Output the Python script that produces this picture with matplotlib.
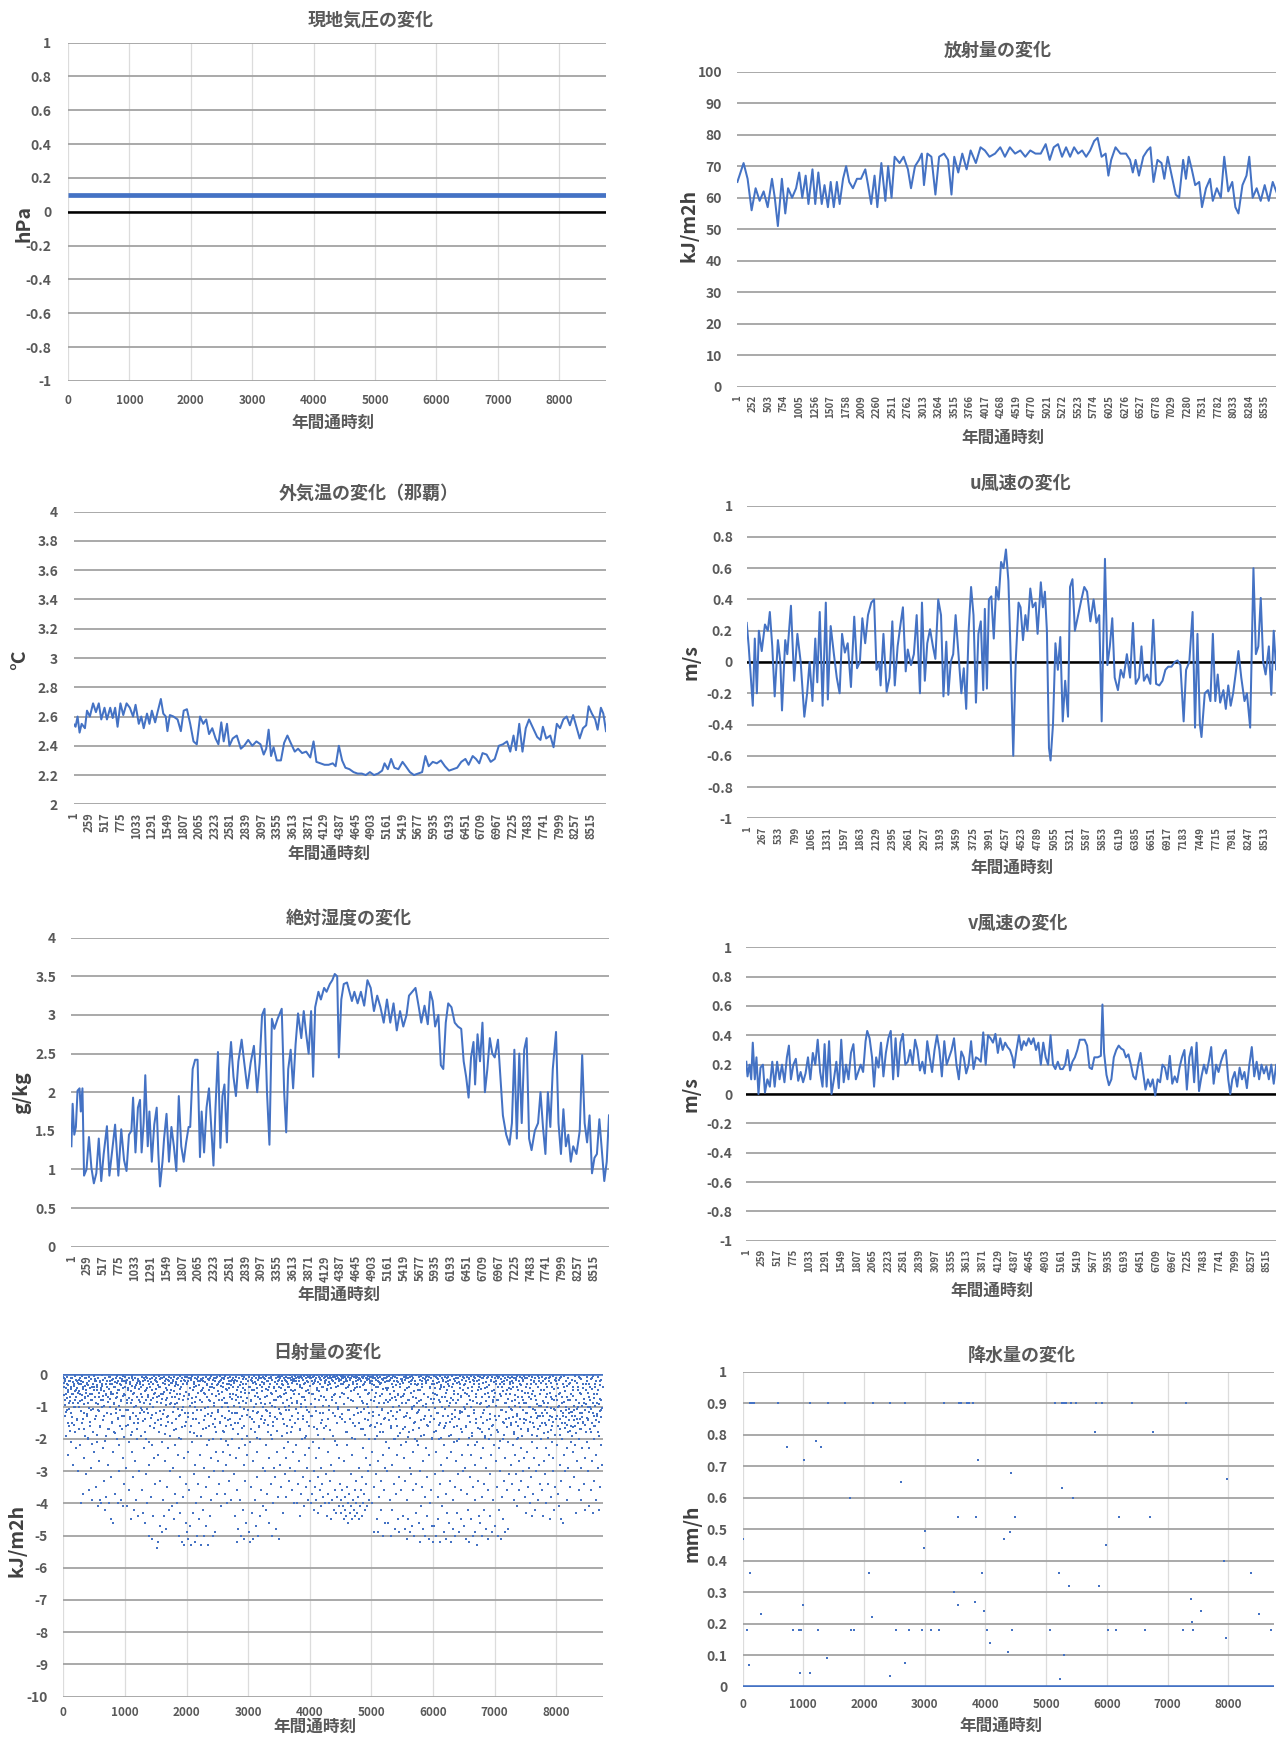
import numpy as np
import matplotlib.pyplot as plt

plt.rcParams['font.family'] = ['Noto Sans CJK JP', 'DejaVu Sans']

W, H = 1276, 1738
BLUE = '#4472C4'
GRID = '#a3a3a3'
VGRID = '#dcdcdc'
TXT = '#595959'
LBL = '#404040'

# ---- data (hour of year, value) ----
pres_series = [(0, 0.1), (8760, 0.1)]

rad_series = [(0,65),(100,71),(165,66),(230,56),(295,63),(360,59),(425,62),(490,57),(560,66),(605,60),
    (655,51),(720,66),(775,55),(820,63),(885,60),(950,63),(1000,68),(1050,60),(1105,67),(1150,58),
    (1215,69),(1260,58),(1310,68),(1365,58),(1410,64),(1465,57),(1510,65),(1560,57),(1610,65),(1655,58),
    (1710,66),(1760,70),(1810,65),(1870,63),(1935,66),(2000,66),(2070,69),(2115,64),(2165,58),(2220,67),
    (2265,57),(2330,71),(2395,59),(2440,70),(2495,60),(2545,73),(2625,71),(2690,73),(2760,69),(2810,63),
    (2875,70),(2940,72),(2985,74),(3020,64),(3075,74),(3140,73),(3205,61),(3265,73),(3345,74),(3410,72),
    (3465,61),(3510,73),(3575,68),(3640,74),(3710,69),(3775,75),(3860,71),(3935,76),(4005,75),(4080,73),
    (4170,74),(4255,76),(4330,73),(4410,76),(4495,74),(4580,75),(4660,73),(4740,75),(4825,74),(4910,74),
    (4990,77),(5055,72),(5120,76),(5190,77),(5255,73),(5320,76),(5385,73),(5450,76),(5515,74),(5580,75),
    (5645,73),(5710,75),(5775,78),(5830,79),(5895,73),(5960,74),(6005,67),(6050,72),(6120,76),(6200,74),
    (6290,74),(6355,72),(6400,68),(6445,72),(6500,67),(6570,73),(6635,75),(6685,76),(6735,65),(6800,72),
    (6865,71),(6910,66),(6965,73),(7030,67),(7095,61),(7150,60),(7215,72),(7260,66),(7305,73),(7355,69),
    (7410,64),(7475,65),(7520,57),(7585,63),(7650,66),(7695,59),(7760,63),(7825,60),(7880,73),(7945,62),
    (8010,65),(8060,57),(8110,55),(8175,64),(8240,67),(8285,73),(8340,60),(8405,63),(8470,59),(8535,64),
    (8600,59),(8665,65),(8760,60)]

temp_series = [(0,2.55),(34,2.53),(67,2.60),(100,2.49),(134,2.55),(188,2.52),(222,2.64),(269,2.60),
    (322,2.69),(369,2.63),(416,2.69),(457,2.58),(510,2.66),(550,2.58),(604,2.66),(645,2.59),(685,2.66),
    (725,2.53),(772,2.69),(819,2.61),(873,2.69),(927,2.66),(980,2.60),(1021,2.68),(1074,2.55),(1115,2.60),
    (1155,2.52),(1209,2.62),(1249,2.55),(1289,2.64),(1343,2.56),(1383,2.63),(1437,2.72),(1477,2.62),
    (1518,2.60),(1545,2.50),(1585,2.61),(1645,2.60),(1712,2.58),(1766,2.50),(1813,2.64),(1866,2.65),
    (1920,2.55),(1974,2.43),(2028,2.41),(2082,2.60),(2135,2.55),(2183,2.58),(2230,2.48),(2283,2.52),
    (2337,2.45),(2384,2.41),(2431,2.56),(2471,2.43),(2525,2.55),(2565,2.40),(2619,2.45),(2686,2.47),
    (2753,2.38),(2807,2.40),(2874,2.44),(2941,2.40),(3009,2.43),(3076,2.41),(3129,2.34),(3170,2.38),
    (3210,2.51),(3250,2.33),(3291,2.39),(3344,2.30),(3412,2.30),(3465,2.42),(3519,2.47),(3573,2.42),
    (3640,2.36),(3694,2.38),(3761,2.35),(3828,2.36),(3895,2.32),(3949,2.43),(3996,2.29),(4063,2.28),
    (4130,2.27),(4197,2.27),(4265,2.28),(4312,2.26),(4365,2.40),(4419,2.30),(4473,2.25),(4540,2.24),
    (4607,2.22),(4674,2.21),(4742,2.21),(4809,2.20),(4876,2.22),(4943,2.20),(5010,2.21),(5077,2.23),
    (5117,2.28),(5171,2.24),(5225,2.31),(5278,2.25),(5345,2.24),(5413,2.29),(5466,2.26),(5534,2.22),
    (5601,2.20),(5668,2.21),(5735,2.22),(5789,2.33),(5843,2.26),(5910,2.29),(5977,2.28),(6044,2.30),
    (6111,2.26),(6178,2.23),(6245,2.24),(6312,2.25),(6379,2.29),(6447,2.31),(6500,2.27),(6567,2.33),
    (6621,2.31),(6675,2.28),(6729,2.35),(6796,2.34),(6863,2.29),(6930,2.31),(6997,2.40),(7064,2.41),
    (7132,2.43),(7185,2.36),(7239,2.47),(7279,2.37),(7333,2.55),(7386,2.36),(7440,2.52),(7494,2.58),
    (7561,2.52),(7628,2.46),(7682,2.44),(7722,2.53),(7776,2.45),(7843,2.47),(7897,2.39),(7951,2.55),
    (8004,2.52),(8058,2.58),(8112,2.60),(8166,2.54),(8219,2.61),(8273,2.53),(8327,2.45),(8381,2.52),
    (8434,2.54),(8474,2.67),(8528,2.62),(8582,2.58),(8622,2.51),(8676,2.66),(8716,2.62),(8760,2.50)]

u_series = [(0,0.25),(33,0.10),(60,-0.05),(100,-0.28),(133,0.15),(167,-0.20),(200,0.20),(247,0.07),
    (300,0.24),(347,0.20),(380,0.32),(420,0.10),(460,-0.22),(513,0.14),(553,0.00),(580,-0.31),(633,0.14),
    (667,0.05),(727,0.36),(780,-0.12),(833,0.18),(887,0.00),(947,-0.35),(993,-0.20),(1033,0.00),
    (1080,-0.25),(1127,0.15),(1160,-0.13),(1200,0.32),(1247,-0.28),(1300,0.38),(1333,-0.24),(1380,0.23),
    (1433,0.05),(1480,-0.10),(1527,-0.20),(1567,0.18),(1613,0.06),(1660,0.12),(1713,-0.16),(1767,0.29),
    (1813,-0.04),(1860,0.00),(1900,0.28),(1947,0.12),(1993,0.30),(2047,0.38),(2093,0.40),(2133,-0.05),
    (2180,0.00),(2200,-0.15),(2247,0.18),(2300,-0.19),(2347,-0.10),(2393,0.26),(2433,-0.15),(2480,0.10),
    (2527,0.24),(2567,0.35),(2613,-0.06),(2647,0.08),(2700,-0.02),(2747,0.05),(2793,0.30),(2847,-0.20),
    (2880,0.38),(2927,-0.12),(2967,0.12),(3013,0.21),(3060,0.10),(3100,0.02),(3147,0.40),(3193,0.30),
    (3233,-0.22),(3280,0.13),(3313,-0.21),(3353,0.00),(3393,0.05),(3433,0.30),(3480,0.05),(3527,-0.20),
    (3567,-0.04),(3607,-0.30),(3647,0.20),(3687,0.48),(3727,0.30),(3767,-0.26),(3807,0.18),(3847,0.26),
    (3887,-0.18),(3913,0.34),(3947,-0.17),(3980,0.40),(4020,0.42),(4060,0.15),(4100,0.48),(4140,0.40),
    (4180,0.64),(4220,0.60),(4260,0.72),(4300,0.52),(4333,0.10),(4380,-0.60),(4420,0.00),(4467,0.38),
    (4500,0.35),(4540,0.14),(4580,0.30),(4613,0.20),(4660,0.47),(4700,0.35),(4747,0.38),(4780,0.18),
    (4833,0.51),(4867,0.35),(4900,0.45),(4933,0.20),(4967,-0.55),(4993,-0.63),(5033,-0.40),(5073,0.12),
    (5113,-0.05),(5153,0.16),(5193,-0.38),(5233,-0.12),(5280,-0.35),(5313,0.48),(5353,0.53),(5393,0.20),
    (5447,0.30),(5500,0.40),(5547,0.48),(5593,0.45),(5647,0.26),(5700,0.40),(5747,0.25),(5793,0.30),
    (5833,-0.38),(5887,0.66),(5927,-0.02),(5967,0.10),(6007,0.28),(6047,-0.10),(6100,-0.18),(6147,-0.05),
    (6193,-0.10),(6247,0.05),(6300,-0.10),(6347,0.25),(6393,-0.14),(6447,-0.10),(6487,0.10),(6527,-0.12),
    (6580,-0.08),(6633,-0.14),(6680,0.27),(6727,-0.14),(6780,-0.15),(6833,-0.12),(6880,-0.05),(6927,-0.03),
    (6980,-0.03),(7033,0.00),(7080,0.01),(7127,-0.02),(7180,-0.38),(7220,-0.05),(7273,0.00),(7327,0.32),
    (7367,-0.42),(7407,0.18),(7447,-0.40),(7473,-0.48),(7527,-0.20),(7580,-0.18),(7620,-0.25),(7660,0.18),
    (7700,-0.25),(7740,-0.08),(7780,-0.26),(7833,-0.18),(7873,-0.30),(7913,-0.15),(7953,-0.28),(7993,-0.20),
    (8033,-0.08),(8080,0.07),(8127,-0.10),(8180,-0.25),(8220,-0.20),(8273,-0.42),(8327,0.60),(8367,0.05),
    (8407,0.10),(8447,0.41),(8487,0.00),(8527,-0.08),(8580,0.10),(8620,-0.21),(8660,0.20),(8700,-0.05),
    (8760,0.15)]

hum_series = [(0,1.30),(20,1.85),(47,1.45),(73,1.55),(100,2.02),(133,2.05),(153,1.75),(180,2.05),(206,0.92),
    (246,1.00),(286,1.42),(326,1.02),(366,0.82),(406,0.95),(446,1.40),(486,0.85),(526,1.20),(579,1.56),
    (619,0.92),(665,1.25),(712,1.58),(765,0.92),(812,1.52),(858,1.12),(898,0.98),(938,1.45),(978,1.50),
    (1005,1.93),(1044,1.22),(1084,1.80),(1118,1.90),(1144,1.22),(1177,1.60),(1204,2.22),(1244,1.30),
    (1271,1.75),(1310,1.10),(1350,1.58),(1390,1.80),(1417,1.20),(1444,0.78),(1484,1.10),(1510,1.40),
    (1550,1.72),(1590,1.10),(1630,1.55),(1670,1.30),(1710,0.98),(1750,1.95),(1790,1.30),(1830,1.10),
    (1870,1.35),(1910,1.55),(1936,1.55),(1976,2.30),(2016,2.42),(2056,2.42),(2095,1.16),(2122,1.75),
    (2162,1.22),(2202,1.80),(2242,2.05),(2282,1.50),(2315,1.05),(2348,1.80),(2388,2.52),(2428,1.28),
    (2461,1.95),(2494,2.10),(2534,1.35),(2568,2.30),(2601,2.65),(2641,2.20),(2681,1.95),(2721,2.40),
    (2774,2.68),(2814,2.40),(2867,2.05),(2921,2.38),(2974,2.60),(3027,2.00),(3067,2.38),(3107,3.00),
    (3147,3.08),(3187,2.00),(3227,1.32),(3267,2.95),(3307,2.82),(3360,2.95),(3427,3.08),(3467,2.00),
    (3500,1.48),(3533,2.30),(3573,2.55),(3613,2.05),(3653,2.62),(3693,3.02),(3746,2.70),(3786,3.05),
    (3826,2.75),(3866,2.50),(3906,3.05),(3939,2.20),(3972,3.10),(4025,3.30),(4065,3.20),(4118,3.35),
    (4158,3.30),(4211,3.40),(4251,3.45),(4291,3.53),(4331,3.50),(4358,2.45),(4398,3.20),(4438,3.40),
    (4491,3.42),(4531,3.30),(4571,3.18),(4611,3.30),(4664,3.15),(4717,3.30),(4771,3.12),(4824,3.45),
    (4877,3.35),(4930,3.05),(4983,3.25),(5036,3.10),(5089,2.90),(5142,3.20),(5196,2.90),(5249,3.15),
    (5302,2.80),(5355,3.05),(5408,2.85),(5461,3.00),(5501,3.25),(5554,3.30),(5607,3.35),(5661,3.10),
    (5701,2.90),(5754,3.12),(5807,2.88),(5847,3.30),(5887,3.18),(5927,2.85),(5980,3.00),(6020,2.35),
    (6060,2.30),(6100,2.90),(6140,3.15),(6193,3.10),(6246,2.90),(6299,2.85),(6352,2.82),(6392,2.40),
    (6432,2.20),(6472,1.93),(6512,2.45),(6552,2.65),(6578,2.10),(6618,2.75),(6658,2.40),(6698,2.90),
    (6738,2.00),(6778,2.30),(6818,2.70),(6858,2.50),(6898,2.45),(6951,2.68),(6991,2.20),(7031,1.70),
    (7085,1.45),(7138,1.32),(7178,1.60),(7218,2.55),(7258,1.40),(7298,2.50),(7338,1.60),(7378,2.55),
    (7418,2.70),(7458,1.40),(7498,1.25),(7551,1.50),(7604,1.60),(7644,2.00),(7684,1.55),(7724,1.20),
    (7764,2.00),(7804,1.55),(7844,2.30),(7897,2.78),(7937,1.60),(7977,1.20),(8017,1.78),(8057,1.30),
    (8097,1.45),(8137,1.10),(8177,1.30),(8230,1.20),(8283,1.50),(8323,2.48),(8363,1.60),(8403,1.35),
    (8443,1.70),(8483,0.95),(8523,1.15),(8563,1.20),(8603,1.65),(8643,1.25),(8683,0.85),(8723,1.10),
    (8760,1.70)]

v_series = [(0,0.22),(20,0.12),(53,0.20),(80,0.10),(106,0.35),(139,0.10),(166,0.25),(199,0.00),(232,0.18),
    (272,0.20),(305,0.01),(345,0.10),(385,0.05),(425,0.22),(464,0.05),(504,0.22),(544,0.10),(584,0.20),
    (624,0.08),(664,0.25),(697,0.33),(730,0.10),(770,0.20),(810,0.24),(849,0.09),(889,0.15),(929,0.08),
    (969,0.14),(1009,0.25),(1048,0.10),(1088,0.28),(1128,0.20),(1168,0.37),(1208,0.15),(1247,0.05),
    (1281,0.34),(1314,0.05),(1354,0.36),(1394,0.00),(1433,0.10),(1473,0.22),(1513,0.04),(1553,0.37),
    (1593,0.08),(1632,0.20),(1672,0.10),(1712,0.28),(1752,0.34),(1792,0.10),(1832,0.15),(1871,0.20),
    (1911,0.15),(1951,0.36),(1978,0.43),(2017,0.38),(2057,0.25),(2090,0.05),(2124,0.25),(2163,0.18),
    (2203,0.35),(2243,0.12),(2283,0.28),(2323,0.38),(2363,0.43),(2402,0.10),(2442,0.38),(2482,0.12),
    (2522,0.35),(2561,0.41),(2601,0.20),(2641,0.22),(2681,0.30),(2721,0.20),(2761,0.37),(2800,0.30),
    (2840,0.16),(2880,0.22),(2920,0.14),(2960,0.36),(2999,0.25),(3039,0.15),(3079,0.30),(3119,0.40),
    (3159,0.30),(3199,0.12),(3239,0.36),(3278,0.20),(3318,0.25),(3358,0.30),(3398,0.38),(3438,0.20),
    (3477,0.10),(3517,0.29),(3557,0.25),(3597,0.14),(3637,0.20),(3677,0.36),(3717,0.17),(3756,0.25),
    (3796,0.24),(3836,0.22),(3876,0.42),(3916,0.20),(3955,0.40),(3995,0.38),(4035,0.35),(4075,0.41),
    (4115,0.28),(4154,0.38),(4194,0.30),(4234,0.35),(4274,0.32),(4314,0.30),(4354,0.25),(4380,0.18),
    (4420,0.30),(4460,0.40),(4500,0.30),(4539,0.36),(4579,0.33),(4619,0.38),(4659,0.34),(4699,0.38),
    (4739,0.30),(4778,0.35),(4818,0.20),(4858,0.35),(4898,0.25),(4937,0.20),(4977,0.40),(5017,0.20),
    (5056,0.17),(5096,0.22),(5136,0.17),(5176,0.17),(5216,0.20),(5256,0.30),(5296,0.16),(5335,0.22),
    (5375,0.25),(5415,0.30),(5455,0.37),(5495,0.37),(5535,0.37),(5575,0.33),(5614,0.18),(5654,0.17),
    (5694,0.25),(5747,0.25),(5800,0.26),(5826,0.61),(5853,0.28),(5892,0.13),(5932,0.06),(5972,0.10),
    (6012,0.25),(6052,0.30),(6092,0.33),(6131,0.31),(6171,0.30),(6211,0.25),(6251,0.27),(6291,0.20),
    (6331,0.12),(6370,0.10),(6410,0.20),(6450,0.28),(6490,0.15),(6530,0.03),(6570,0.10),(6609,0.05),
    (6649,0.10),(6689,-0.01),(6729,0.10),(6769,0.08),(6808,0.20),(6848,0.18),(6888,0.10),(6928,0.26),
    (6968,0.07),(7008,0.12),(7047,0.08),(7087,0.18),(7127,0.25),(7167,0.30),(7207,0.03),(7247,0.25),
    (7286,0.32),(7326,0.08),(7366,0.35),(7406,0.02),(7446,0.12),(7486,0.20),(7526,0.14),(7565,0.22),
    (7605,0.32),(7645,0.07),(7685,0.20),(7725,0.15),(7764,0.22),(7804,0.27),(7844,0.30),(7884,0.10),
    (7917,0.00),(7950,0.10),(7990,0.15),(8030,0.05),(8070,0.18),(8109,0.10),(8149,0.15),(8189,0.04),
    (8229,0.20),(8269,0.32),(8309,0.12),(8349,0.22),(8389,0.10),(8428,0.20),(8468,0.14),(8508,0.19),
    (8548,0.10),(8588,0.20),(8628,0.07),(8668,0.20),(8760,0.12)]

# hours with no sun (value 0) form a solid band along the top
solar_zero = [(0, 0), (8760, 0)]
solar_pts = [
    (5,-0.1),(12,-0.4),(20,-0.8),(28,-0.2),(35,-1.3),(42,-0.6),(50,-1.9),(58,-0.3),(66,-1.1),(73,-2.5),(80,-0.5),(88,-0.9),(95,-1.6),(103,-0.2),(110,-0.7),(118,-2.1),(125,-1.2),(133,-0.4),(140,-0.1),(148,-1.5),(155,-2.8),(162,-0.6),(170,-1.0),(178,-0.3),(186,-1.8),(193,-0.8),(200,-2.3),(208,-0.5),(216,-1.4),(224,-0.2),(232,-3.0),(240,-0.9),(247,-1.7),
    (255,-0.3),(262,-1.0),(270,-0.6),(278,-2.2),(285,-4.0),(292,-0.2),(300,-1.5),(308,-0.8),(315,-3.7),(322,-0.4),(330,-1.2),(338,-2.6),(345,-0.1),(352,-0.7),(360,-1.9),(368,-3.1),(375,-0.5),(382,-1.3),(390,-0.3),(398,-2.0),(405,-0.9),(412,-3.6),(420,-0.2),(428,-1.6),(435,-0.6),(443,-2.9),(450,-1.1),(458,-0.4),(465,-3.9),(473,-0.8),(480,-1.8),(488,-0.3),(495,-2.4),
    (505,-0.5),(512,-1.4),(520,-0.2),(528,-3.5),(535,-0.9),(542,-2.1),(550,-0.4),(558,-4.1),(565,-1.1),(572,-0.7),(580,-2.7),(588,-0.2),(595,-3.9),(602,-1.6),(610,-0.5),(618,-4.0),(625,-1.0),(632,-0.3),(640,-2.3),(648,-0.8),(655,-3.3),(662,-1.3),(670,-0.1),(678,-4.2),(685,-0.6),(692,-1.9),(700,-3.8),(708,-0.4),(715,-1.2),(722,-2.8),(730,-0.7),(738,-4.0),(745,-1.7),
    (752,-0.2),(760,-1.0),(768,-3.2),(775,-0.6),(782,-4.5),(790,-1.5),(798,-0.3),(805,-2.4),(812,-4.6),(820,-0.9),(828,-1.8),(835,-0.4),(842,-3.7),(850,-1.2),(858,-0.1),(865,-2.0),(872,-0.7),(880,-4.0),(888,-1.4),(895,-0.5),(902,-3.0),(910,-2.2),(918,-0.3),(925,-1.1),(932,-3.9),(940,-0.8),(948,-1.7),(955,-0.2),(962,-2.6),(970,-4.1),(978,-0.6),(985,-1.3),(993,-3.4),
    (1003,-0.4),(1010,-1.6),(1018,-0.2),(1025,-2.9),(1032,-0.8),(1040,-4.1),(1048,-1.1),(1055,-0.5),(1062,-2.1),(1070,-3.6),(1078,-0.3),(1085,-1.4),(1092,-0.9),(1100,-4.5),(1108,-2.4),(1115,-0.1),(1122,-1.8),(1130,-3.2),(1138,-0.6),(1145,-1.0),(1152,-4.2),(1160,-2.7),(1168,-0.4),(1175,-1.3),(1182,-3.9),(1190,-0.7),(1198,-2.0),(1205,-0.2),(1212,-4.4),(1220,-1.5),(1228,-0.8),(1235,-3.0),(1243,-1.2),
    (1252,-0.3),(1260,-1.9),(1268,-0.6),(1275,-3.6),(1282,-1.1),(1290,-4.3),(1298,-0.2),(1305,-2.3),(1312,-0.9),(1320,-4.6),(1328,-1.4),(1335,-0.5),(1342,-3.1),(1350,-2.0),(1358,-0.1),(1365,-4.0),(1372,-1.2),(1380,-0.7),(1388,-2.8),(1395,-5.0),(1402,-0.4),(1410,-1.6),(1418,-3.8),(1425,-0.8),(1432,-5.1),(1440,-2.2),(1448,-0.3),(1455,-1.0),(1462,-4.4),(1470,-2.6),(1478,-0.6),(1485,-1.5),(1493,-3.4),
    (1503,-0.2),(1510,-1.2),(1518,-5.4),(1525,-0.7),(1532,-2.5),(1540,-5.2),(1548,-0.4),(1555,-1.8),(1562,-4.7),(1570,-3.3),(1578,-0.9),(1585,-1.4),(1592,-0.1),(1600,-4.9),(1608,-2.1),(1615,-0.6),(1622,-3.9),(1630,-1.1),(1638,-4.4),(1645,-0.3),(1652,-2.7),(1660,-1.6),(1668,-0.8),(1675,-4.8),(1682,-3.5),(1690,-0.5),(1698,-1.3),(1705,-2.3),(1712,-4.2),(1720,-0.2),(1728,-1.9),(1735,-3.0),(1743,-0.9),
    (1752,-0.5),(1760,-1.5),(1768,-4.1),(1775,-0.2),(1782,-2.9),(1790,-1.0),(1798,-4.5),(1805,-0.7),(1812,-2.2),(1820,-3.7),(1828,-0.3),(1835,-1.7),(1842,-4.0),(1850,-0.9),(1858,-2.5),(1865,-0.1),(1872,-5.0),(1880,-1.3),(1888,-3.2),(1895,-0.6),(1902,-4.3),(1910,-2.0),(1918,-0.4),(1925,-5.2),(1932,-1.1),(1940,-3.8),(1948,-0.8),(1955,-2.6),(1962,-5.3),(1970,-1.6),(1978,-0.2),(1985,-4.6),(1993,-3.4),
    (2003,-0.3),(2010,-4.9),(2018,-1.2),(2025,-2.4),(2032,-5.1),(2040,-0.6),(2048,-3.6),(2055,-1.8),(2062,-4.7),(2070,-0.1),(2078,-5.3),(2085,-2.1),(2092,-0.9),(2100,-4.3),(2108,-1.4),(2115,-3.1),(2122,-0.4),(2130,-5.2),(2138,-2.8),(2145,-1.0),(2152,-4.0),(2160,-0.7),(2168,-1.9),(2175,-5.0),(2182,-3.4),(2190,-0.2),(2198,-1.5),(2205,-4.5),(2212,-2.5),(2220,-0.8),(2228,-5.3),(2235,-3.8),(2243,-1.1),
    (2252,-0.5),(2260,-4.2),(2268,-1.7),(2275,-0.2),(2282,-2.9),(2290,-5.0),(2298,-1.3),(2305,-0.6),(2312,-3.5),(2320,-4.7),(2328,-0.3),(2335,-2.2),(2342,-1.0),(2350,-5.3),(2358,-3.2),(2365,-0.8),(2372,-1.6),(2380,-4.4),(2388,-0.1),(2395,-2.6),(2402,-3.9),(2410,-1.2),(2418,-0.4),(2425,-5.0),(2432,-2.0),(2440,-0.9),(2448,-3.0),(2455,-1.4),(2462,-4.9),(2470,-0.2),(2478,-2.4),(2485,-1.8),(2493,-3.7),
    (2503,-0.3),(2510,-1.1),(2518,-2.7),(2525,-0.6),(2532,-3.4),(2540,-1.5),(2548,-0.2),(2555,-4.1),(2562,-2.0),(2570,-0.8),(2578,-1.3),(2585,-3.0),(2592,-0.4),(2600,-2.4),(2608,-1.8),(2615,-0.1),(2622,-3.7),(2630,-0.9),(2638,-1.6),(2645,-2.8),(2652,-0.5),(2660,-4.0),(2668,-1.0),(2675,-2.2),(2682,-0.3),(2690,-3.3),(2698,-1.4),(2705,-0.7),(2712,-2.5),(2720,-3.9),(2728,-0.2),(2735,-1.2),(2743,-2.0),
    (2752,-0.6),(2760,-1.7),(2768,-3.1),(2775,-0.2),(2782,-4.4),(2790,-1.2),(2798,-2.6),(2805,-0.8),(2812,-5.2),(2820,-3.6),(2828,-0.4),(2835,-1.5),(2842,-4.8),(2850,-2.3),(2858,-0.1),(2865,-1.0),(2872,-3.9),(2880,-5.0),(2888,-0.7),(2895,-2.0),(2902,-1.3),(2910,-4.2),(2918,-0.3),(2925,-2.8),(2932,-5.1),(2940,-1.6),(2948,-0.5),(2955,-3.3),(2962,-4.6),(2970,-0.9),(2978,-1.9),(2985,-2.5),(2993,-0.2),
    (3003,-1.1),(3010,-4.9),(3018,-0.4),(3025,-2.1),(3032,-5.2),(3040,-0.8),(3048,-3.5),(3055,-1.4),(3062,-4.3),(3070,-0.2),(3078,-2.7),(3085,-5.1),(3092,-1.0),(3100,-0.5),(3108,-3.9),(3115,-1.8),(3122,-4.7),(3130,-0.3),(3138,-2.4),(3145,-1.2),(3152,-3.2),(3160,-0.7),(3168,-5.0),(3175,-1.6),(3182,-0.1),(3190,-4.4),(3198,-2.0),(3205,-0.9),(3212,-3.6),(3220,-1.3),(3228,-0.4),(3235,-2.9),(3243,-4.1),
    (3252,-0.3),(3260,-1.5),(3268,-3.0),(3275,-0.7),(3282,-4.2),(3290,-1.1),(3298,-2.2),(3305,-0.2),(3312,-3.7),(3320,-1.8),(3328,-0.5),(3335,-4.6),(3342,-2.6),(3350,-0.9),(3358,-1.3),(3365,-3.4),(3372,-0.1),(3380,-5.0),(3388,-2.0),(3395,-0.6),(3402,-1.6),(3410,-4.0),(3418,-2.9),(3425,-0.4),(3432,-1.0),(3440,-3.2),(3448,-4.8),(3455,-0.8),(3462,-2.4),(3470,-1.4),(3478,-0.2),(3485,-3.8),(3493,-5.1),
    (3503,-0.4),(3510,-1.2),(3518,-2.8),(3525,-0.1),(3532,-3.5),(3540,-0.7),(3548,-1.9),(3555,-0.3),(3562,-4.3),(3570,-1.4),(3578,-2.3),(3585,-0.6),(3592,-3.1),(3600,-1.0),(3608,-0.2),(3615,-2.6),(3622,-3.8),(3630,-0.8),(3638,-1.6),(3645,-0.4),(3652,-2.1),(3660,-3.3),(3668,-1.1),(3675,-0.1),(3682,-2.9),(3690,-0.5),(3698,-1.8),(3705,-3.6),(3712,-0.9),(3720,-1.3),(3728,-2.4),(3735,-0.2),(3743,-4.0),
    (3752,-0.6),(3760,-1.5),(3768,-3.0),(3775,-0.2),(3782,-2.2),(3790,-4.0),(3798,-0.9),(3805,-1.2),(3812,-3.4),(3820,-0.1),(3828,-2.7),(3835,-1.7),(3842,-4.4),(3850,-0.4),(3858,-3.7),(3865,-1.0),(3872,-2.0),(3880,-0.7),(3888,-3.2),(3895,-1.4),(3902,-0.3),(3910,-4.1),(3918,-2.5),(3925,-0.8),(3932,-1.9),(3940,-3.5),(3948,-0.2),(3955,-2.9),(3962,-1.1),(3970,-3.9),(3978,-0.5),(3985,-2.3),(3993,-1.6),
    (4003,-0.1),(4010,-3.3),(4018,-1.3),(4025,-4.0),(4032,-0.6),(4040,-3.7),(4048,-2.1),(4055,-0.3),(4062,-3.0),(4070,-4.2),(4078,-1.0),(4085,-3.5),(4092,-0.2),(4100,-2.6),(4108,-3.9),(4115,-1.7),(4122,-0.5),(4130,-3.2),(4138,-4.3),(4145,-0.8),(4152,-2.3),(4160,-3.6),(4168,-0.1),(4175,-1.5),(4182,-4.1),(4190,-2.9),(4198,-0.4),(4205,-3.4),(4212,-1.2),(4220,-3.8),(4228,-0.7),(4235,-2.0),(4243,-4.0),
    (4252,-0.2),(4260,-3.1),(4268,-1.6),(4275,-4.4),(4282,-0.5),(4290,-3.7),(4298,-2.4),(4305,-0.1),(4312,-4.0),(4320,-1.1),(4328,-3.3),(4335,-0.3),(4342,-4.5),(4350,-2.8),(4358,-0.8),(4365,-3.9),(4372,-1.9),(4380,-0.2),(4388,-4.2),(4395,-3.0),(4402,-0.6),(4410,-1.3),(4418,-3.6),(4425,-4.3),(4432,-0.4),(4440,-2.2),(4448,-3.8),(4455,-1.0),(4462,-0.1),(4470,-4.1),(4478,-2.6),(4485,-3.4),(4493,-0.7),
    (4502,-0.3),(4508,-3.9),(4515,-4.3),(4522,-1.4),(4528,-3.6),(4535,-0.1),(4542,-4.1),(4548,-4.5),(4555,-2.7),(4562,-0.6),(4568,-3.8),(4575,-4.2),(4582,-1.8),(4588,-0.2),(4595,-4.4),(4602,-3.5),(4608,-2.2),(4615,-0.4),(4622,-4.0),(4628,-4.6),(4635,-1.1),(4642,-3.7),(4648,-0.1),(4655,-4.3),(4662,-3.1),(4668,-0.8),(4675,-4.1),(4682,-2.5),(4688,-4.5),(4695,-0.3),(4702,-3.9),(4708,-1.5),(4715,-4.2),(4722,-0.5),(4728,-3.6),(4735,-4.4),(4742,-2.0),(4748,-0.2),
    (4752,-4.0),(4758,-3.3),(4765,-0.4),(4772,-4.3),(4778,-1.2),(4785,-3.8),(4792,-0.1),(4798,-4.5),(4805,-2.9),(4812,-0.7),(4818,-4.1),(4825,-3.6),(4832,-1.7),(4838,-0.2),(4845,-4.4),(4852,-3.2),(4858,-0.9),(4865,-4.0),(4872,-2.3),(4878,-0.3),(4885,-3.7),(4892,-4.2),(4898,-1.4),(4905,-0.5),(4912,-3.4),(4918,-2.6),(4925,-0.1),(4932,-4.1),(4938,-1.0),(4945,-3.0),(4952,-0.6),(4958,-2.0),(4965,-3.9),(4972,-0.2),(4978,-1.6),(4985,-2.8),(4993,-0.8),
    (5003,-0.3),(5010,-2.4),(5018,-4.0),(5025,-1.3),(5032,-0.1),(5040,-3.5),(5048,-4.9),(5055,-0.7),(5062,-2.0),(5070,-3.1),(5078,-0.4),(5085,-4.5),(5092,-1.5),(5100,-0.2),(5108,-2.7),(5115,-4.9),(5122,-3.8),(5130,-0.9),(5138,-1.8),(5145,-0.3),(5152,-3.3),(5160,-4.2),(5168,-1.1),(5175,-0.6),(5182,-2.5),(5190,-5.0),(5198,-3.6),(5205,-0.1),(5212,-1.4),(5220,-2.9),(5228,-4.6),(5235,-0.8),(5243,-2.1),
    (5252,-0.5),(5260,-3.0),(5268,-1.2),(5275,-4.6),(5282,-0.2),(5290,-2.3),(5298,-3.9),(5305,-0.8),(5312,-1.6),(5320,-5.0),(5328,-0.1),(5335,-2.8),(5342,-4.2),(5350,-1.0),(5358,-0.4),(5365,-3.4),(5372,-2.0),(5380,-4.8),(5388,-0.7),(5395,-1.4),(5402,-3.7),(5410,-0.2),(5418,-2.5),(5425,-4.5),(5432,-1.9),(5440,-0.6),(5448,-3.2),(5455,-4.9),(5462,-1.1),(5470,-0.3),(5478,-2.2),(5485,-3.6),(5493,-0.9),
    (5503,-0.2),(5510,-1.7),(5518,-4.4),(5525,-0.6),(5532,-2.6),(5540,-3.3),(5548,-4.8),(5555,-0.1),(5562,-1.3),(5570,-2.1),(5578,-5.1),(5585,-3.9),(5592,-0.8),(5600,-4.5),(5608,-1.8),(5615,-0.4),(5622,-2.9),(5630,-4.9),(5638,-3.1),(5645,-0.2),(5652,-1.0),(5660,-4.7),(5668,-2.4),(5675,-0.7),(5682,-3.6),(5690,-5.0),(5698,-1.5),(5705,-0.3),(5712,-2.0),(5720,-4.3),(5728,-3.4),(5735,-0.9),(5743,-1.2),
    (5752,-0.5),(5760,-2.2),(5768,-4.6),(5775,-1.1),(5782,-3.0),(5790,-5.2),(5798,-0.8),(5805,-1.9),(5812,-4.1),(5820,-3.5),(5828,-0.3),(5835,-2.7),(5842,-4.8),(5850,-1.4),(5858,-0.6),(5865,-3.8),(5872,-5.0),(5880,-2.3),(5888,-1.0),(5895,-0.2),(5902,-4.4),(5910,-3.2),(5918,-1.6),(5925,-0.7),(5932,-5.1),(5940,-2.5),(5948,-4.0),(5955,-0.4),(5962,-1.3),(5970,-3.6),(5978,-4.7),(5985,-2.0),(5993,-0.9),
    (6003,-5.2),(6010,-0.3),(6018,-1.8),(6025,-4.7),(6032,-3.1),(6040,-0.6),(6048,-2.4),(6055,-5.0),(6062,-1.2),(6070,-0.1),(6078,-3.8),(6085,-4.5),(6092,-2.0),(6100,-0.8),(6108,-1.5),(6115,-5.2),(6122,-3.4),(6130,-0.4),(6138,-2.8),(6145,-4.1),(6152,-1.0),(6160,-0.2),(6168,-3.0),(6175,-4.9),(6182,-2.2),(6190,-0.7),(6198,-1.6),(6205,-3.7),(6212,-5.1),(6220,-0.5),(6228,-2.6),(6235,-4.3),(6243,-1.3),
    (6252,-0.2),(6260,-1.9),(6268,-4.6),(6275,-3.3),(6282,-0.9),(6290,-2.4),(6298,-5.2),(6305,-0.4),(6312,-1.4),(6320,-3.9),(6328,-4.8),(6335,-2.1),(6342,-0.6),(6350,-1.1),(6358,-3.5),(6365,-5.0),(6372,-0.1),(6380,-2.7),(6388,-4.3),(6395,-1.6),(6402,-0.8),(6410,-3.1),(6418,-4.9),(6425,-2.0),(6432,-0.3),(6440,-1.2),(6448,-3.6),(6455,-4.5),(6462,-0.7),(6470,-2.5),(6478,-1.8),(6485,-3.0),(6493,-0.5),
    (6503,-1.0),(6510,-4.7),(6518,-0.3),(6525,-2.9),(6532,-5.1),(6540,-1.6),(6548,-0.6),(6555,-3.7),(6562,-4.2),(6570,-2.2),(6578,-0.1),(6585,-1.3),(6592,-5.2),(6600,-3.2),(6608,-0.8),(6615,-2.5),(6622,-4.5),(6630,-1.9),(6638,-0.4),(6645,-3.5),(6652,-5.0),(6660,-1.1),(6668,-0.2),(6675,-2.8),(6682,-4.9),(6690,-3.9),(6698,-0.7),(6705,-1.5),(6712,-5.3),(6720,-2.1),(6728,-0.5),(6735,-3.3),(6743,-4.4),
    (6752,-0.3),(6760,-1.7),(6768,-4.6),(6775,-2.6),(6782,-0.9),(6790,-3.8),(6798,-5.0),(6805,-1.2),(6812,-0.1),(6820,-2.3),(6828,-4.2),(6835,-3.4),(6842,-0.6),(6850,-1.9),(6858,-4.8),(6865,-2.9),(6872,-0.4),(6880,-1.0),(6888,-3.6),(6895,-5.1),(6902,-2.0),(6910,-0.7),(6918,-1.4),(6925,-4.4),(6932,-3.1),(6940,-0.2),(6948,-2.5),(6955,-4.9),(6962,-1.6),(6970,-0.8),(6978,-3.9),(6985,-2.2),(6993,-0.5),
    (7003,-1.3),(7010,-4.7),(7018,-0.3),(7025,-2.7),(7032,-3.5),(7040,-0.8),(7048,-5.0),(7055,-1.8),(7062,-0.1),(7070,-2.3),(7078,-4.2),(7085,-3.0),(7092,-0.6),(7100,-1.1),(7108,-5.1),(7115,-3.8),(7122,-0.4),(7130,-2.0),(7138,-4.5),(7145,-1.5),(7152,-0.2),(7160,-3.3),(7168,-4.9),(7175,-2.6),(7182,-0.9),(7190,-1.4),(7198,-3.6),(7205,-0.5),(7212,-2.1),(7220,-4.8),(7228,-1.0),(7235,-3.1),(7243,-0.3),
    (7252,-0.6),(7260,-1.5),(7268,-2.8),(7275,-0.2),(7282,-3.4),(7290,-1.1),(7298,-2.2),(7305,-0.4),(7312,-3.9),(7320,-1.8),(7328,-0.8),(7335,-2.5),(7342,-3.1),(7350,-0.1),(7358,-1.3),(7365,-2.0),(7372,-4.1),(7380,-0.5),(7388,-1.6),(7395,-3.6),(7402,-2.7),(7410,-0.3),(7418,-1.0),(7425,-2.3),(7432,-3.3),(7440,-0.7),(7448,-1.9),(7455,-0.2),(7462,-3.0),(7470,-1.4),(7478,-2.6),(7485,-0.9),(7493,-3.8),
    (7503,-0.4),(7510,-1.2),(7518,-4.3),(7525,-2.4),(7532,-0.1),(7540,-3.5),(7548,-1.7),(7555,-0.7),(7562,-2.9),(7570,-4.0),(7578,-1.0),(7585,-0.3),(7592,-3.2),(7600,-2.1),(7608,-4.4),(7615,-0.6),(7622,-1.5),(7630,-3.7),(7638,-2.6),(7645,-0.2),(7652,-1.1),(7660,-4.2),(7668,-3.0),(7675,-0.8),(7682,-1.9),(7690,-2.3),(7698,-0.4),(7705,-3.9),(7712,-1.3),(7720,-0.1),(7728,-2.8),(7735,-3.4),(7743,-1.6),
    (7752,-0.5),(7760,-2.0),(7768,-3.6),(7775,-1.2),(7782,-0.2),(7790,-4.4),(7798,-2.7),(7805,-0.9),(7812,-1.5),(7820,-3.1),(7828,-0.3),(7835,-2.3),(7842,-4.0),(7850,-1.0),(7858,-0.6),(7865,-3.4),(7872,-1.8),(7880,-2.5),(7888,-0.1),(7895,-4.5),(7902,-1.3),(7910,-3.8),(7918,-0.7),(7925,-2.1),(7932,-1.6),(7940,-0.4),(7948,-3.0),(7955,-2.6),(7962,-4.2),(7970,-0.8),(7978,-1.1),(7985,-3.5),(7993,-0.2),
    (8003,-1.4),(8010,-2.2),(8018,-0.3),(8025,-3.7),(8032,-1.0),(8040,-4.1),(8048,-0.6),(8055,-2.8),(8062,-1.7),(8070,-0.1),(8078,-3.3),(8085,-4.5),(8092,-2.0),(8100,-0.9),(8108,-1.3),(8115,-4.6),(8122,-0.4),(8130,-2.5),(8138,-3.0),(8145,-1.5),(8152,-0.2),(8160,-1.1),(8168,-3.9),(8175,-2.3),(8182,-0.7),(8190,-1.8),(8198,-2.9),(8205,-0.3),(8212,-1.2),(8220,-3.5),(8228,-0.8),(8235,-2.1),(8243,-1.6),
    (8252,-1.3),(8260,-1.9),(8268,-0.5),(8275,-2.4),(8282,-1.1),(8290,-3.2),(8298,-0.2),(8305,-1.6),(8312,-2.2),(8320,-0.8),(8328,-4.3),(8335,-1.4),(8342,-2.7),(8350,-0.4),(8358,-1.0),(8365,-3.6),(8372,-2.0),(8380,-0.1),(8388,-1.7),(8395,-2.9),(8402,-0.6),(8410,-3.9),(8418,-1.2),(8425,-2.3),(8432,-0.3),(8440,-1.5),(8448,-3.4),(8455,-0.9),(8462,-2.6),(8470,-4.2),(8478,-1.8),(8485,-0.5),(8493,-2.1),
    (8503,-0.2),(8510,-1.4),(8518,-3.0),(8525,-0.7),(8532,-2.3),(8540,-4.1),(8548,-1.0),(8555,-0.4),(8562,-3.6),(8570,-1.8),(8578,-2.7),(8585,-0.1),(8592,-4.3),(8600,-1.2),(8608,-2.0),(8615,-0.6),(8622,-3.3),(8630,-1.6),(8638,-0.3),(8645,-2.5),(8652,-3.9),(8660,-0.9),(8668,-1.3),(8675,-2.9),(8682,-0.5),(8690,-4.2),(8698,-1.9),(8705,-0.2),(8712,-3.5),(8720,-2.2),(8728,-0.8),(8735,-1.1),(8743,-2.8),(8752,-0.4),
]

# weak-sun hours, dense just under zero: values in 0.01 kJ/m2h, one row per 250 h block,
# sampled at the hour offsets below within each block
solar_weak_offsets = [2, 9, 16, 24, 31, 39, 46, 54, 62, 69, 77, 84, 92, 99, 107, 114, 122, 129, 137,
                      144, 152, 159, 167, 174, 182, 189, 197, 204, 212, 219, 227, 235, 243]
solar_weak = {
    0: [-7,-28,-63,-15,-94,-41,-118,-9,-72,-152,-33,-55,-107,-21,-84,-176,-46,-12,-61,-131,-24,-89,-37,-158,-52,-5,-102,-69,-18,-143,-43,-58,-26],
    250: [-19,-53,-11,-82,-31,-114,-64,-4,-139,-47,-23,-91,-171,-36,-74,-13,-57,-122,-27,-198,-66,-34,-103,-8,-44,-149,-79,-16,-62,-216,-29,-108,-6],
    500: [-38,-14,-71,-128,-22,-49,-187,-32,-93,-10,-59,-113,-25,-162,-42,-81,-3,-35,-141,-68,-17,-99,-51,-12,-207,-63,-29,-119,-20,-86,-169,-45,-7],
    750: [-31,-77,-9,-54,-124,-18,-148,-61,-14,-92,-39,-183,-24,-73,-109,-27,-6,-58,-137,-21,-97,-48,-11,-161,-34,-82,-16,-129,-43,-4,-67,-196,-22],
    1000: [-8,-63,-112,-28,-17,-88,-157,-41,-13,-74,-133,-23,-52,-188,-36,-5,-79,-121,-19,-59,-152,-44,-10,-98,-32,-171,-26,-69,-15,-138,-47,-21,-86],
    1250: [-24,-38,-103,-7,-71,-146,-33,-12,-118,-53,-18,-179,-81,-9,-42,-107,-22,-64,-209,-29,-14,-92,-136,-25,-49,-11,-127,-74,-31,-168,-6,-57,-19],
    1500: [-47,-13,-87,-23,-141,-34,-68,-5,-113,-39,-16,-158,-62,-10,-78,-122,-27,-8,-54,-186,-21,-96,-43,-14,-131,-72,-18,-149,-32,-9,-91,-58,-26],
    1750: [-12,-69,-28,-117,-19,-51,-172,-7,-93,-36,-138,-24,-61,-15,-108,-33,-197,-77,-4,-46,-127,-22,-39,-163,-11,-101,-29,-66,-17,-121,-8,-56,-147],
    2000: [-27,-9,-76,-132,-21,-63,-13,-98,-41,-159,-18,-72,-6,-119,-48,-24,-181,-31,-87,-11,-139,-37,-16,-111,-58,-7,-152,-34,-79,-22,-192,-53,-14],
    2250: [-18,-86,-42,-12,-143,-57,-23,-106,-8,-167,-32,-71,-14,-124,-49,-19,-203,-38,-82,-5,-128,-29,-61,-17,-154,-10,-97,-44,-21,-162,-68,-13,-33],
    2500: [-9,-52,-118,-24,-81,-6,-148,-37,-19,-102,-56,-12,-177,-28,-73,-16,-134,-4,-47,-208,-31,-89,-11,-141,-43,-22,-113,-62,-8,-157,-34,-78,-17],
    2750: [-39,-11,-97,-26,-152,-18,-63,-7,-121,-48,-21,-186,-69,-13,-88,-32,-139,-24,-54,-6,-168,-41,-83,-16,-109,-9,-58,-218,-29,-14,-127,-72,-22],
    3000: [-21,-57,-8,-133,-38,-82,-17,-171,-12,-49,-114,-27,-5,-147,-66,-23,-91,-11,-197,-43,-59,-19,-118,-4,-162,-33,-76,-13,-138,-52,-24,-101,-9],
    3250: [-11,-27,-92,-16,-142,-47,-6,-113,-68,-22,-158,-13,-39,-121,-31,-8,-189,-57,-18,-98,-3,-147,-42,-79,-24,-131,-12,-53,-176,-29,-7,-71,-108],
    3500: [-6,-18,-67,-9,-43,-124,-21,-4,-88,-32,-153,-12,-49,-17,-112,-7,-58,-182,-24,-31,-11,-97,-38,-3,-141,-19,-72,-8,-27,-163,-14,-51,-22],
    3750: [-16,-5,-48,-107,-12,-29,-83,-7,-138,-21,-61,-9,-172,-33,-4,-92,-41,-13,-128,-18,-69,-6,-197,-27,-11,-101,-52,-3,-149,-23,-8,-57,-118],
    4000: [-4,-37,-13,-93,-22,-129,-8,-62,-28,-6,-162,-17,-78,-11,-113,-42,-3,-188,-24,-53,-9,-121,-31,-14,-68,-19,-142,-5,-98,-38,-12,-167,-26],
    4250: [-7,-19,-81,-4,-47,-138,-11,-33,-97,-23,-6,-173,-42,-13,-71,-18,-119,-8,-63,-2,-207,-28,-9,-88,-16,-152,-5,-37,-109,-14,-21,-131,-3],
    4500: [-17,-6,-58,-12,-122,-31,-4,-91,-23,-148,-9,-44,-14,-178,-21,-73,-7,-112,-34,-2,-139,-18,-52,-11,-199,-5,-82,-24,-127,-8,-41,-161,-13],
    4750: [-5,-29,-9,-103,-18,-62,-3,-151,-14,-38,-118,-22,-7,-84,-169,-11,-33,-107,-6,-24,-187,-49,-12,-93,-19,-143,-4,-58,-15,-121,-27,-8,-158],
    5000: [-9,-48,-21,-118,-6,-82,-32,-163,-13,-57,-19,-101,-4,-191,-39,-11,-127,-23,-68,-7,-153,-28,-14,-109,-17,-179,-47,-3,-88,-24,-137,-12,-42],
    5250: [-22,-8,-87,-41,-143,-5,-61,-18,-114,-11,-168,-29,-73,-6,-129,-21,-53,-202,-9,-79,-34,-118,-13,-159,-24,-63,-3,-97,-38,-182,-15,-71,-19],
    5500: [-14,-68,-27,-131,-7,-48,-162,-19,-88,-4,-121,-42,-12,-193,-23,-79,-9,-137,-31,-57,-6,-108,-17,-172,-11,-52,-98,-21,-147,-3,-73,-33,-208],
    5750: [-29,-117,-8,-82,-168,-18,-49,-5,-142,-38,-22,-97,-12,-188,-61,-16,-128,-7,-91,-27,-157,-4,-69,-19,-112,-9,-148,-43,-78,-13,-198,-31,-58],
    6000: [-21,-78,-6,-139,-42,-103,-9,-177,-28,-63,-14,-119,-23,-158,-47,-4,-87,-33,-197,-11,-71,-128,-18,-39,-167,-7,-108,-57,-24,-151,-12,-82,-29],
    6250: [-8,-98,-37,-147,-19,-72,-188,-5,-122,-31,-79,-14,-163,-52,-22,-131,-3,-88,-208,-27,-61,-11,-139,-24,-113,-43,-6,-171,-68,-17,-118,-9,-48],
    6500: [-33,-12,-107,-58,-162,-21,-93,-7,-128,-41,-198,-14,-67,-24,-148,-4,-101,-53,-182,-18,-82,-9,-119,-29,-219,-13,-62,-138,-22,-88,-6,-167,-39],
    6750: [-17,-91,-8,-133,-47,-178,-11,-71,-28,-152,-5,-112,-42,-197,-23,-83,-13,-141,-59,-7,-169,-32,-98,-3,-122,-19,-188,-53,-9,-87,-158,-24,-69],
    7000: [-12,-58,-143,-21,-97,-6,-172,-38,-81,-9,-128,-29,-207,-14,-67,-111,-23,-149,-4,-52,-187,-31,-89,-11,-118,-61,-18,-163,-7,-78,-42,-137,-13],
    7250: [-24,-108,-47,-158,-8,-82,-131,-27,-186,-12,-63,-97,-19,-147,-38,-5,-122,-71,-198,-22,-89,-9,-139,-33,-171,-52,-13,-112,-79,-18,-152,-6,-59],
    7500: [-11,-88,-141,-29,-119,-57,-177,-4,-102,-42,-148,-18,-77,-132,-9,-188,-53,-108,-23,-162,-68,-13,-121,-31,-137,-92,-6,-169,-39,-98,-21,-128,-61],
    7750: [-28,-97,-152,-7,-83,-129,-48,-181,-16,-112,-71,-158,-12,-119,-38,-197,-88,-22,-141,-58,-9,-172,-103,-27,-133,-78,-5,-148,-47,-108,-19,-187,-67],
    8000: [-13,-79,-128,-42,-161,-98,-17,-139,-58,-188,-8,-113,-69,-152,-29,-121,-87,-4,-168,-51,-133,-22,-102,-158,-37,-81,-11,-142,-109,-26,-177,-62,-118],
    8250: [-19,-118,-68,-162,-38,-97,-143,-6,-128,-79,-182,-27,-107,-152,-48,-88,-9,-139,-121,-57,-171,-14,-99,-131,-42,-148,-77,-3,-112,-158,-31,-92,-137],
    8500: [-7,-101,-58,-142,-29,-118,-81,-169,-16,-108,-151,-47,-89,-4,-129,-72,-161,-38,-97,-21,-143,-122,-62,-178,-9,-91,-148,-33,-113,-77,-131,-18,-103],
}

# most hours have no rain -> solid band on 0
rain_zero = [(0, 0), (8760, 0)]
rain_pts = [(127,0.9),(147,0.9),(180,0.9),(582,0.9),(1116,0.9),(1404,0.9),(1684,0.9),(2152,0.9),(2420,0.9),
    (2674,0.9),(3322,0.9),(3570,0.9),(3603,0.9),(3697,0.9),(3737,0.9),(3790,0.9),(5147,0.9),(5261,0.9),
    (5294,0.9),(5328,0.9),(5408,0.9),(5495,0.9),(5829,0.9),(5916,0.9),(6417,0.9),(7300,0.9),
    (5809,0.81),(6758,0.81),(1210,0.78),(729,0.76),(1290,0.76),(1016,0.72),(3870,0.72),(4425,0.68),
    (7981,0.66),(2607,0.65),(5261,0.63),(1771,0.60),(5448,0.60),(3556,0.54),(3844,0.54),(4479,0.54),
    (6197,0.54),(6711,0.54),(3001,0.495),(4405,0.49),(13,0.47),(4312,0.47),(5983,0.45),(2988,0.44),
    (7935,0.40),(127,0.36),(2086,0.36),(3944,0.36),(5214,0.36),(8369,0.36),(5381,0.32),(5876,0.32),
    (3489,0.30),(7380,0.28),(3824,0.27),(996,0.26),(3543,0.26),(3971,0.24),(7553,0.24),(301,0.23),
    (8503,0.23),(2132,0.22),(7400,0.205),(67,0.18),(836,0.18),(936,0.18),(969,0.18),(1237,0.18),
    (1785,0.18),(1838,0.18),(2520,0.18),(2734,0.18),(2955,0.18),(3108,0.18),(3235,0.18),(4024,0.18),
    (4445,0.18),(5060,0.18),(6016,0.18),(6150,0.18),(6631,0.18),(7253,0.18),(7420,0.18),(8703,0.18),
    (7955,0.155),(4071,0.14),(4372,0.11),(5301,0.10),(1384,0.09),(2667,0.075),(100,0.07),(949,0.045),
    (1103,0.045),(2420,0.035),(5227,0.025)]

HOUR_TICKS = [0, 1000, 2000, 3000, 4000, 5000, 6000, 7000, 8000]


def unzip(pairs):
    a = np.array(pairs, dtype=float)
    return a[:, 0], a[:, 1]


def fmt(v):
    s = ('%.2f' % v).rstrip('0').rstrip('.')
    return '0' if s in ('-0', '') else s


fig = plt.figure(figsize=(W / 100, H / 100), dpi=100)


def panel(box, ylo, yhi, ystep, ypad=11):
    x0, y0, x1, y1 = box
    ax = fig.add_axes([x0 / W, 1 - y1 / H, (x1 - x0) / W, (y1 - y0) / H])
    ax.set_xlim(0, 8760)
    ax.set_ylim(ylo, yhi)
    n = int(round((yhi - ylo) / ystep))
    yt = [round(ylo + i * ystep, 3) for i in range(n + 1)]
    ax.set_yticks(yt)
    ax.set_yticklabels([fmt(v) for v in yt])
    for s in ax.spines.values():
        s.set_visible(False)
    ax.set_axisbelow(True)
    ax.grid(axis='y', color=GRID, lw=1.3)
    ax.tick_params(axis='y', length=0, pad=ypad, labelsize=10, labelcolor=TXT)
    for t in ax.get_yticklabels():
        t.set_fontweight('bold')
    return ax


def category_axis(ax, step, size):
    ticks = list(range(1, 8761, step))
    ax.set_xticks(ticks)
    ax.set_xticklabels([str(t) for t in ticks], rotation=90, fontsize=size,
                       color=TXT, fontweight='bold')
    ax.tick_params(axis='x', length=0, pad=6)


def hour_axis(ax, pad):
    ax.set_xticks(HOUR_TICKS)
    ax.set_xticklabels([str(t) for t in HOUR_TICKS], fontsize=8.5, color=TXT, fontweight='bold')
    ax.tick_params(axis='x', length=0, pad=pad)
    ax.grid(axis='x', color=VGRID, lw=0.9)


def label(x, y, s, size=13, rot=0, color=TXT, weight='bold'):
    fig.text(x / W, 1 - y / H, s, ha='center', va='center', fontsize=size,
             rotation=rot, color=color, fontweight=weight)


LINE_W = 1.45

# 現地気圧
ax = panel((68, 42.5, 606, 381), -1, 1, 0.2, ypad=12)
hour_axis(ax, 9)
ax.axhline(0, color='black', lw=1.8, zorder=1.5)
x, y = unzip(pres_series)
ax.plot(x, y, color=BLUE, lw=3.4, solid_capstyle='butt')
label(371, 20, '現地気圧の変化')
label(333, 423, '年間通時刻', 12)
label(24, 223, 'hPa', 14, 90, LBL)

# 放射量
ax = panel((737.4, 71.7, 1278.6, 386.7), 0, 100, 10, ypad=11)
category_axis(ax, 251, 7.0)
x, y = unzip(rad_series)
ax.plot(x, y, color=BLUE, lw=LINE_W)
label(998, 50, '放射量の変化')
label(1003, 438, '年間通時刻', 12)
label(689, 225, 'kJ/m2h', 14, 90, LBL)

# 外気温
ax = panel((73.5, 511.7, 606, 804.3), 2, 4, 0.2, ypad=11)
category_axis(ax, 258, 8.0)
x, y = unzip(temp_series)
ax.plot(x, y, color=BLUE, lw=LINE_W)
label(369, 493, '外気温の変化（那覇）')
label(329, 854, '年間通時刻', 12)
label(20, 660, '°C', 14, 90, LBL)

# u風速
ax = panel((746.7, 505.7, 1279.8, 818.3), -1, 1, 0.2, ypad=10)
category_axis(ax, 266, 7.0)
ax.axhline(0, color='black', lw=1.8, zorder=1.5)
x, y = unzip(u_series)
ax.plot(x, y, color=BLUE, lw=LINE_W)
label(1020, 483, 'u風速の変化')
label(1012, 868, '年間通時刻', 12)
label(691, 662, 'm/s', 14, 90, LBL)

# 絶対湿度
ax = panel((71.4, 937.7, 609, 1246.7), 0, 4, 0.5, ypad=11)
category_axis(ax, 258, 8.0)
x, y = unzip(hum_series)
ax.plot(x, y, color=BLUE, lw=LINE_W)
label(349, 918, '絶対湿度の変化')
label(339, 1295, '年間通時刻', 12)
label(22, 1093, 'g/kg', 14, 90, LBL)

# v風速
ax = panel((746.3, 947.3, 1281.8, 1240.7), -1, 1, 0.2, ypad=10)
category_axis(ax, 258, 7.0)
ax.axhline(0, color='black', lw=1.8, zorder=1.5)
x, y = unzip(v_series)
ax.plot(x, y, color=BLUE, lw=LINE_W)
label(1018, 923, 'v風速の変化')
label(992, 1291, '年間通時刻', 12)
label(691, 1094, 'm/s', 14, 90, LBL)

# 日射量
ax = panel((63.3, 1374.3, 603, 1696.7), -10, 0, 1, ypad=11)
hour_axis(ax, 7)
x, y = unzip(solar_zero)
ax.plot(x, y, color=BLUE, lw=2.6, solid_capstyle='butt', zorder=3)
x, y = unzip(solar_pts)
ax.plot(x, y, ls='none', marker='s', ms=1.8, mew=0, color=BLUE)
for start, vals in solar_weak.items():
    hx = [start + o for o in solar_weak_offsets]
    ax.plot(hx, np.array(vals) / 100.0, ls='none', marker='s', ms=1.8, mew=0, color=BLUE)
label(327, 1352, '日射量の変化')
label(315, 1727, '年間通時刻', 12)
label(17, 1540, 'kJ/m2h', 14, 90, LBL)

# 降水量
ax = panel((742.6, 1371.7, 1274.4, 1686.7), 0, 1, 0.1, ypad=11)
hour_axis(ax, 8)
x, y = unzip(rain_zero)
ax.plot(x, y, color=BLUE, lw=2.6, solid_capstyle='butt', zorder=3)
x, y = unzip(rain_pts)
ax.plot(x, y, ls='none', marker='s', ms=2.1, mew=0, color=BLUE)
label(1022, 1355, '降水量の変化')
label(1001, 1726, '年間通時刻', 12)
label(692, 1533, 'mm/h', 14, 90, LBL)

fig.savefig('out.png', dpi=100, facecolor='white')
